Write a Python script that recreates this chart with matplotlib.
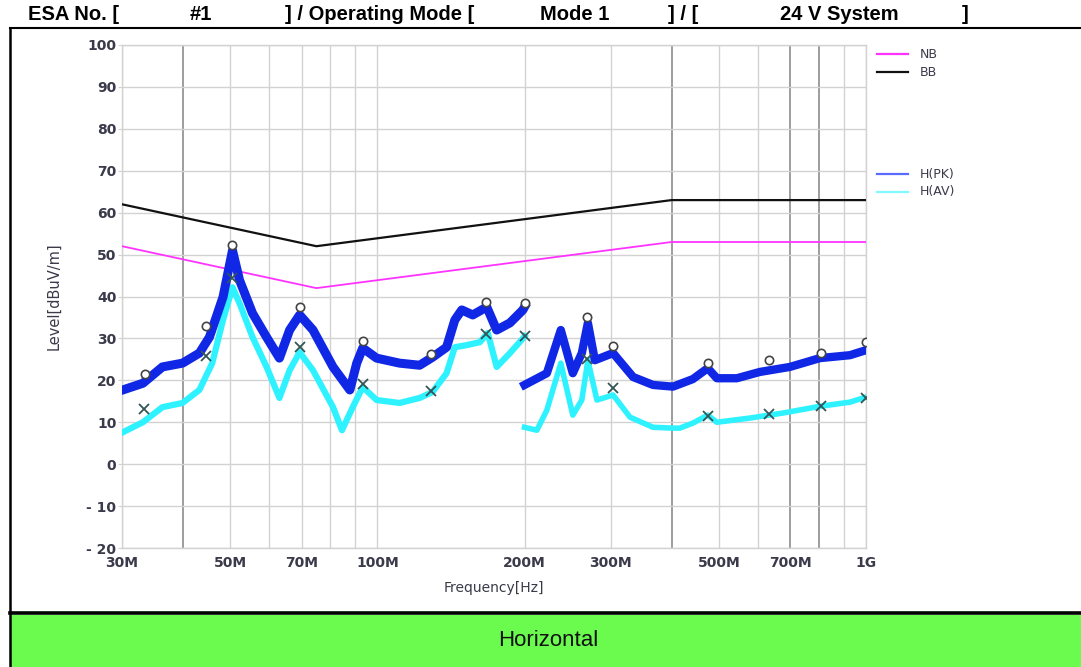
import matplotlib
matplotlib.use("Agg")
import matplotlib.pyplot as plt
from matplotlib.lines import Line2D
from matplotlib.patches import Rectangle
from matplotlib.ticker import FixedLocator, NullFormatter

# ---------------- data ----------------
title_parts = ["ESA No. [", "#1", "] / Operating Mode [", "Mode 1", "] / [", "24 V System", "]"]
band_label = "Horizontal"

x_ticks = [30e6, 50e6, 70e6, 100e6, 200e6, 300e6, 500e6, 700e6, 1e9]
x_ticklabels = ["30M", "50M", "70M", "100M", "200M", "300M", "500M", "700M", "1G"]
y_ticks = [-20, -10, 0, 10, 20, 30, 40, 50, 60, 70, 80, 90, 100]
y_ticklabels = ["- 20", "- 10", "0", "10", "20", "30", "40", "50", "60", "70", "80", "90", "100"]

# limit lines
nb_freq = [30e6, 75e6, 400e6, 1e9]
nb_level = [52, 42, 53, 53]
bb_freq = [30e6, 75e6, 400e6, 1e9]
bb_level = [62, 52, 63, 63]

# peak trace, band 1 (30M-200M)
pk1_freq = [30.1e6, 33.1e6, 36.3e6, 39.9e6, 43.2e6, 45.3e6, 48.3e6, 50.5e6, 52.2e6, 55.5e6,
            59.3e6, 63.0e6, 66.1e6, 69.3e6, 73.8e6, 81.1e6, 87.8e6, 90.7e6, 93.3e6, 99.6e6,
            111e6, 122e6, 129.6e6, 138.5e6, 144e6, 148.8e6, 156.7e6, 167.4e6, 175.4e6,
            186.7e6, 198.5e6, 200e6]
pk1_level = [17.7, 19.3, 23.2, 24.1, 26.5, 30.3, 39.9, 51.0, 43.9, 36.0,
             30.3, 25.3, 32.0, 35.6, 32.0, 23.2, 17.7, 24.1, 27.7, 25.3,
             24.1, 23.6, 25.5, 27.9, 34.4, 36.8, 35.6, 37.5, 32.0,
             33.7, 36.8, 37.5]
# peak trace, band 2 (200M-1G)
pk2_freq = [200e6, 222.2e6, 237.3e6, 251.1e6, 262e6, 269.6e6, 278.6e6, 303.6e6, 333.6e6,
            366.5e6, 402.7e6, 442.2e6, 474.4e6, 495e6, 544.1e6, 606.3e6, 698.6e6, 804.5e6,
            927.3e6, 1000e6]
pk2_level = [18.9, 21.7, 32.0, 21.7, 26.5, 33.7, 24.8, 26.5, 20.8,
             18.9, 18.5, 20.3, 22.9, 20.5, 20.5, 22.0, 23.2, 25.3,
             26.0, 27.2]

# average trace, band 1
av1_freq = [30.1e6, 33.1e6, 36.3e6, 39.9e6, 43.2e6, 45.9e6, 48.3e6, 50.5e6, 52.2e6, 55.5e6,
            59.3e6, 63.0e6, 66.1e6, 69.3e6, 73.8e6, 81.1e6, 84.6e6, 89.0e6, 93.3e6, 99.6e6,
            111e6, 122e6, 129.6e6, 138.5e6, 144e6, 152.3e6, 162e6, 168.2e6, 175.4e6,
            186.7e6, 198.5e6, 200e6]
av1_level = [7.6, 10.0, 13.6, 14.6, 17.7, 24.1, 34.4, 42.2, 38.4, 30.3,
             23.2, 15.8, 22.4, 26.7, 22.4, 13.6, 8.1, 13.6, 18.4, 15.3,
             14.6, 15.8, 17.2, 21.7, 27.9, 28.4, 29.1, 31.3, 23.2,
             26.5, 30.0, 30.5]
# average trace, band 2
av2_freq = [200e6, 212e6, 222.2e6, 237.3e6, 251.1e6, 262e6, 269.6e6, 281.3e6, 303.6e6,
            328.9e6, 366.5e6, 402.7e6, 415.9e6, 442.2e6, 474.4e6, 495e6, 578.4e6, 676e6,
            804.5e6, 927.3e6, 1000e6]
av2_level = [8.8, 8.1, 12.9, 24.1, 11.7, 15.3, 24.8, 15.3, 16.5,
             11.2, 8.8, 8.6, 8.6, 9.8, 11.7, 10.0, 11.0, 12.2,
             13.8, 14.8, 16.0]

# detected peaks
pk_mark_freq = [33.4e6, 44.6e6, 50.5e6, 69.3e6, 93.2e6, 129e6, 167e6, 200e6, 268e6, 304e6,
                475e6, 633e6, 810e6, 1000e6]
pk_mark_level = [21.6, 32.9, 52.3, 37.5, 29.4, 26.2, 38.7, 38.4, 35.1, 28.2,
                 24.1, 24.8, 26.5, 29.1]
av_mark_freq = [33.3e6, 44.6e6, 50.5e6, 69.3e6, 93.2e6, 129e6, 167e6, 200e6, 268e6, 304e6,
                475e6, 633e6, 810e6, 1000e6]
av_mark_level = [13.1, 25.8, 44.4, 27.9, 19.1, 17.4, 31.0, 30.5, 25.1, 18.1,
                 11.5, 11.9, 13.9, 15.8]

legend_labels = ["NB", "BB", "H(PK)", "H(AV)"]

# ---------------- styling ----------------
W, H = 1081, 667
fig = plt.figure(figsize=(W / 100, H / 100), dpi=100)

def fx(x):
    return x / W

def fy(y):
    return 1 - y / H

c_nb = "#ff33ff"
c_bb = "#111111"
c_pk = "#1028e6"
c_av = "#2ef2ff"
tick_color = "#3a3a4a"

ax = fig.add_axes([fx(122), fy(548), fx(866) - fx(122), fy(45) - fy(548)])
ax.set_xscale("log")
ax.set_xlim(30e6, 1e9)
ax.set_ylim(-20, 100)

# grid
grid_freqs = [30e6, 40e6, 50e6, 60e6, 70e6, 80e6, 90e6, 100e6, 200e6, 300e6, 400e6,
              500e6, 600e6, 700e6, 800e6, 900e6, 1e9]
dark_freqs = [40e6, 400e6, 700e6, 800e6]
for f in grid_freqs:
    dark = f in dark_freqs
    ax.axvline(f, color="#8c8c8c" if dark else "#d2d2d2", lw=1.2 if dark else 1.0, zorder=0)
for yv in y_ticks:
    ax.axhline(yv, color="#d2d2d2", lw=1.0, zorder=0)

for s in ax.spines.values():
    s.set_color("#d2d2d2")
    s.set_linewidth(1.0)

ax.xaxis.set_major_locator(FixedLocator(x_ticks))
ax.xaxis.set_minor_locator(FixedLocator([]))
ax.xaxis.set_minor_formatter(NullFormatter())
ax.set_xticks(x_ticks)
ax.set_xticklabels(x_ticklabels)
ax.set_yticks(y_ticks)
ax.set_yticklabels(y_ticklabels)
ax.tick_params(axis="both", length=3, color="#d2d2d2", labelcolor=tick_color,
               labelsize=10)
ax.tick_params(axis="x", length=0, pad=6)
ax.tick_params(axis="y", pad=1)
for lab in ax.get_xticklabels() + ax.get_yticklabels():
    lab.set_fontweight("bold")

# limit lines
ax.plot(nb_freq, nb_level, color=c_nb, lw=1.3, zorder=3)
ax.plot(bb_freq, bb_level, color=c_bb, lw=1.6, zorder=3)

# traces
ax.plot(av1_freq, av1_level, color=c_av, lw=4.5, solid_joinstyle="round", zorder=4)
ax.plot(av2_freq, av2_level, color=c_av, lw=4.0, solid_joinstyle="round", zorder=4)
ax.plot(pk1_freq, pk1_level, color=c_pk, lw=6.5, solid_joinstyle="round", zorder=5)
ax.plot(pk2_freq, pk2_level, color=c_pk, lw=6.0, solid_joinstyle="round", zorder=5)

# markers
ax.plot(pk_mark_freq, pk_mark_level, ls="none", marker="o", ms=6, mfc="white",
        mec="#444444", mew=1.2, zorder=6)
ax.plot(av_mark_freq, av_mark_level, ls="none", marker="x", ms=7, mec="#335555",
        mew=1.3, zorder=6)

ax.set_xlabel("Frequency[Hz]", fontsize=10, color=tick_color, labelpad=8)
ax.set_ylabel("Level[dBuV/m]", fontsize=10.5, color=tick_color, labelpad=18)

# legend (outside right)
leg_colors = [c_nb, c_bb, "#5a6cff", "#7ff8ff"]
leg_y = [54, 72, 174, 192]
for lab, col, yy in zip(legend_labels, leg_colors, leg_y):
    fig.add_artist(Line2D([fx(877), fx(908)], [fy(yy), fy(yy)], color=col, lw=1.6,
                          transform=fig.transFigure))
    fig.text(fx(920), fy(yy), lab, fontsize=9, color=tick_color, va="center", ha="left")

# frame
fig.add_artist(Line2D([fx(10), fx(10)], [fy(28), 0], color="black", lw=1.8,
                      transform=fig.transFigure))
fig.add_artist(Line2D([fx(10), 1], [fy(28), fy(28)], color="black", lw=1.5,
                      transform=fig.transFigure))
fig.add_artist(Rectangle((fx(10), 0), 1 - fx(10), fy(615), facecolor="#6bfb4f",
                         edgecolor="none", transform=fig.transFigure))
fig.add_artist(Line2D([fx(10), 1], [fy(613), fy(613)], color="black", lw=2.6,
                      transform=fig.transFigure))
fig.text(fx(548), fy(641), band_label, fontsize=16, color="#111111", ha="center",
         va="center", family=["Liberation Sans", "DejaVu Sans"])

# header
title_x = [28, 190, 285, 540, 668, 780, 962]
for txt, xx in zip(title_parts, title_x):
    fig.text(fx(xx), fy(15), txt, fontsize=14.5, fontweight="bold", ha="left",
             va="center", family=["Liberation Sans", "DejaVu Sans"])

fig.savefig("out.png", dpi=100)
